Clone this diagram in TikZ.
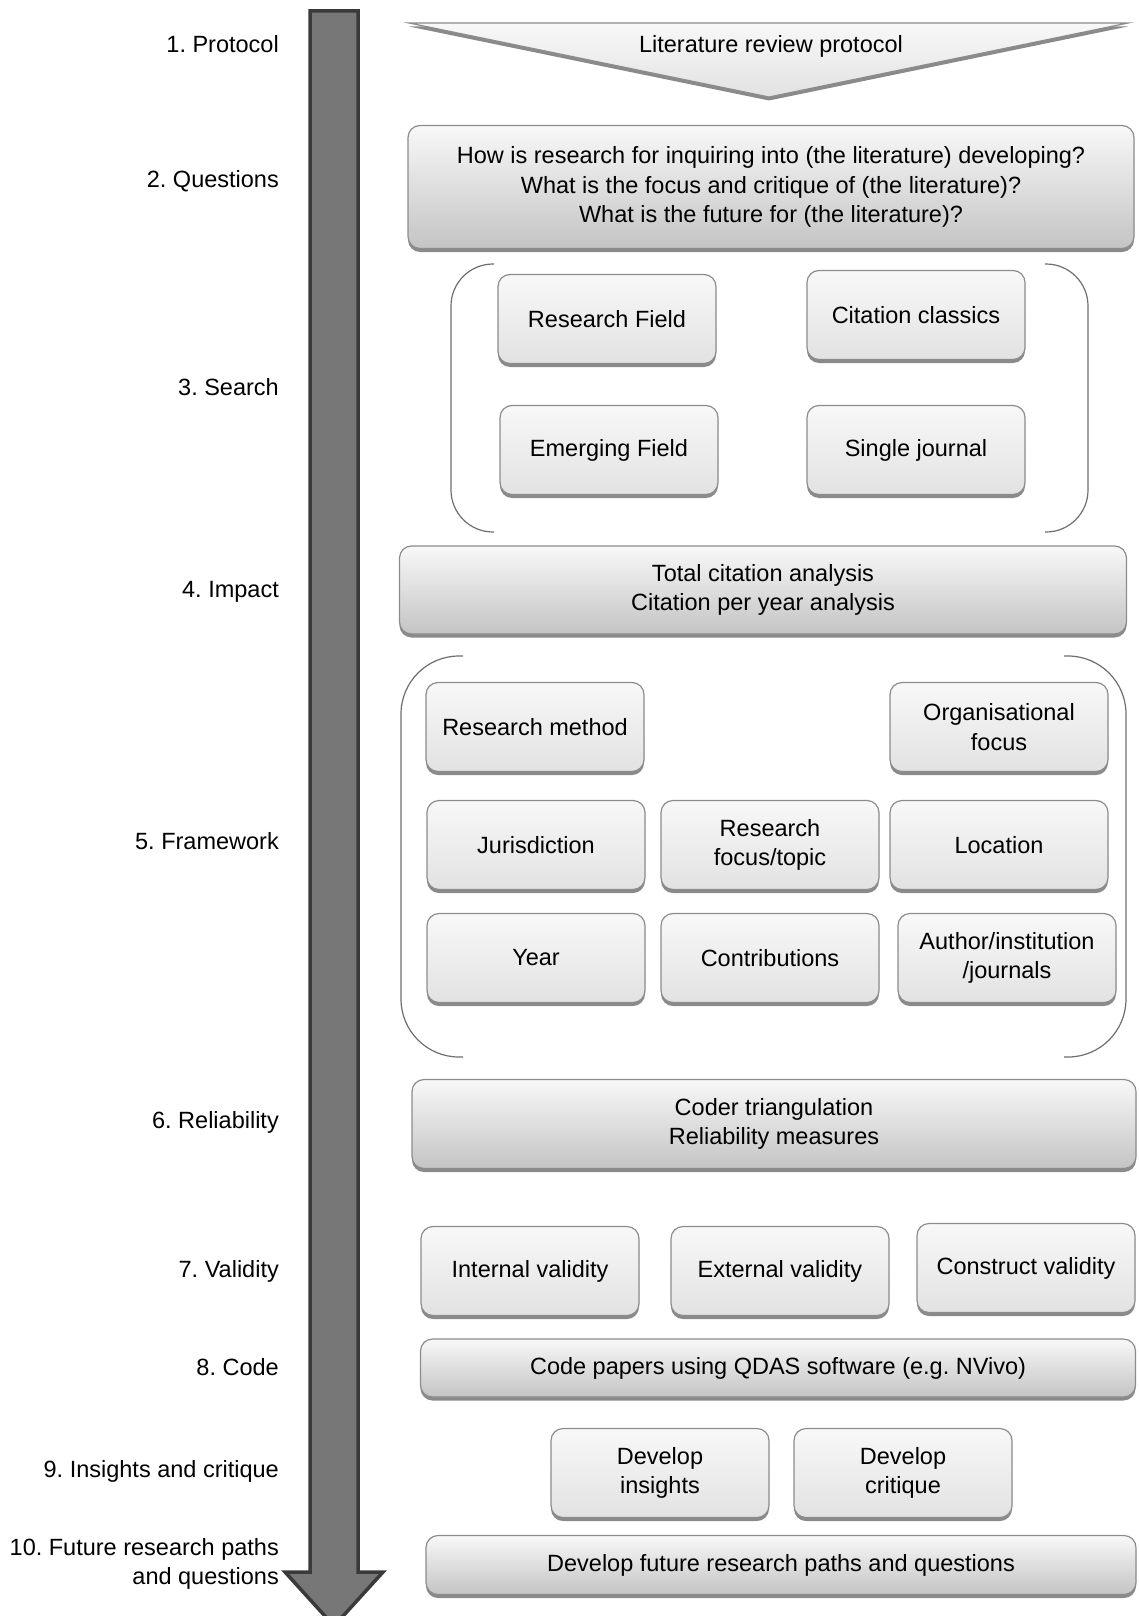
\documentclass[tikz,border=0pt]{standalone}
\usepackage{fontspec}
\setmainfont{Liberation Sans}
\frenchspacing
\usetikzlibrary{positioning, shadows}
\definecolor{stepGrey}{HTML}{777777}
\definecolor{stepDark}{HTML}{3A3A3A}
\definecolor{boxLine}{HTML}{8C8C8C}
\definecolor{boxTop}{HTML}{F8F8F8}
\definecolor{boxLow}{HTML}{E2E2E2}
\definecolor{bandLow}{HTML}{C4C4C4}
\definecolor{braceLine}{HTML}{6E6E6E}
\tikzset{
  basefont/.style={font=\fontsize{23.5}{29.5}\selectfont},
  stagebox/.style={basefont, draw=boxLine, line width=1.2pt, rounded corners=12pt, align=center, inner sep=0pt,
    drop shadow={shadow xshift=0pt, shadow yshift=-3.5pt, fill=black!65, opacity=.7}},
  itembox/.style={stagebox, top color=boxTop, bottom color=boxLow, minimum width=218pt, minimum height=89pt},
  bandbox/.style={stagebox, top color=boxTop, bottom color=bandLow},
  steplabel/.style={basefont, anchor=east, align=right, inner sep=0pt},
  bracket/.style={braceLine, line width=1.2pt},
}

\begin{document}
\begin{tikzpicture}[x=1pt, y=-1pt]
  \useasboundingbox (0,0) rectangle (1138,1616);

  % process arrow
  \path[fill=stepGrey, draw=stepDark, line width=3.5pt, line join=miter]
    (310,11) -- (358,11) -- (358,1572) -- (383,1572) -- (334,1626)
    -- (285,1572) -- (310,1572) -- cycle;

  % stage labels
  \node[steplabel] (l1) at (279,44) {1. Protocol};
  \node[steplabel] (l2) at (279,181) {2. Questions};
  \node[steplabel] (l3) at (279,387) {3. Search};
  \node[steplabel] (l4) at (279,592) {4. Impact};
  \node[steplabel] (l5) at (279,841) {5. Framework};
  \node[steplabel] (l6) at (279,1122) {6. Reliability};
  \node[steplabel] (l7) at (279,1271) {7. Validity};
  \node[steplabel] (l8) at (279,1367) {8. Code};
  \node[steplabel] (l9) at (279,1471) {9. Insights and critique};
  \node[steplabel] (l10) at (279,1564) {10. Future research paths\\and questions};

  % 1. protocol
  \path[draw=boxLine, line width=1.2pt, top color=boxTop, bottom color=boxLow,
    drop shadow={shadow xshift=0pt, shadow yshift=-3.5pt, fill=black!65, opacity=.7}]
    (409,23) -- (1128,23) -- (769,97) -- cycle;
  \node[basefont] (prot) at (771,46) {Literature review protocol};

  % 2. questions
  \node[bandbox, minimum width=726pt, minimum height=123pt] (quest) at (771,187)
    {How is research for inquiring into (the literature) developing?\\
     What is the focus and critique of (the literature)?\\
     What is the future for (the literature)?};

  % 3. search
  \node[itembox] (rfield) at (607,319) {Research Field};
  \node[itembox] (cclass) at (916,315) {Citation classics};
  \node[itembox] (efield) at (609,450) {Emerging Field};
  \node[itembox] (sjour) at (916,450) {Single journal};
  \draw[bracket, rounded corners=42pt] (494,264) -- (451,264) -- (451,532) -- (494,532);
  \draw[bracket, rounded corners=42pt] (1045,264) -- (1088,264) -- (1088,532) -- (1045,532);

  % 4. impact
  \node[bandbox, minimum width=727pt, minimum height=88pt] (impact) at (763,590)
    {Total citation analysis\\Citation per year analysis};

  % 5. framework
  \node[itembox] (rmeth) at (535,727) {Research method};
  \node[itembox] (orgf) at (999,727) {Organisational\\focus};
  \node[itembox] (juris) at (536,845) {Jurisdiction};
  \node[itembox] (rtopic) at (770,845) {Research\\focus/topic};
  \node[itembox] (loc) at (999,845) {Location};
  \node[itembox] (year) at (536,958) {Year};
  \node[itembox] (contr) at (770,958) {Contributions};
  \node[itembox] (auth) at (1007,958) {Author/institution\\/journals};
  \draw[bracket, rounded corners=58pt] (463,656) -- (401,656) -- (401,1057) -- (463,1057);
  \draw[bracket, rounded corners=58pt] (1064,656) -- (1126,656) -- (1126,1057) -- (1064,1057);

  % 6. reliability
  \node[bandbox, minimum width=724pt, minimum height=89pt] (relia) at (774,1124)
    {Coder triangulation\\Reliability measures};

  % 7. validity
  \node[itembox] (intv) at (530,1271) {Internal validity};
  \node[itembox] (extv) at (780,1271) {External validity};
  \node[itembox] (consv) at (1026,1268) {Construct validity};

  % 8. code
  \node[bandbox, minimum width=715pt, minimum height=58pt] (code) at (778,1368)
    {Code papers using QDAS software (e.g. NVivo)};

  % 9. insights and critique
  \node[itembox] (dins) at (660,1473) {Develop\\insights};
  \node[itembox] (dcrit) at (903,1473) {Develop\\critique};

  % 10. future research
  \node[bandbox, minimum width=710pt, minimum height=59pt] (future) at (781,1565)
    {Develop future research paths and questions};
\end{tikzpicture}
\end{document}
